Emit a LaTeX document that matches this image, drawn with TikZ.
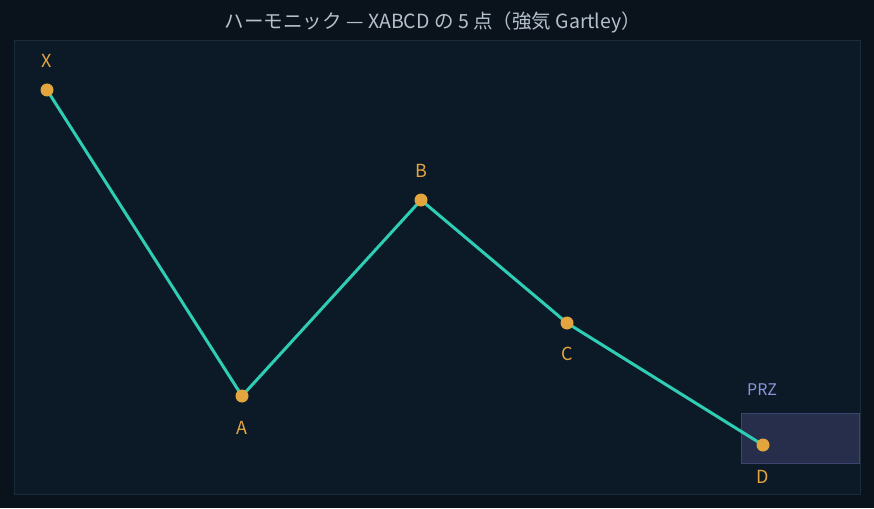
\documentclass[tikz,border=0pt]{standalone}
\usepackage{fontspec}
\setmainfont{Noto Sans CJK JP}
\definecolor{bgout}{HTML}{0A121C}
\definecolor{panel}{HTML}{0C1A27}
\definecolor{panelborder}{HTML}{1A2C3A}
\definecolor{teal}{HTML}{2ECDB4}
\definecolor{dot}{HTML}{E3A63E}
\definecolor{przfill}{HTML}{262E4C}
\definecolor{przborder}{HTML}{3A4670}
\definecolor{przlabel}{HTML}{8C94D8}
\definecolor{titlec}{HTML}{B4C0CC}
\begin{document}
\begin{tikzpicture}[x=1pt,y=-1pt,
  pt/.style={circle,fill=dot,inner sep=0pt,minimum size=13pt},
  lbl/.style={text=dot,font=\fontsize{18}{21}\selectfont,inner sep=0pt},
  leg/.style={draw=teal,line width=3pt,line join=round}]
\fill[bgout] (0,0) rectangle (874,508);
\useasboundingbox (0,0) rectangle (874,508);
\filldraw[fill=panel,draw=panelborder,line width=1pt] (14,41) rectangle (860,494);
\node[text=titlec,font=\fontsize{19.5}{23}\selectfont,inner sep=0pt] (title) at (433,22) {ハーモニック — XABCD の 5 点（強気 Gartley）};
\filldraw[fill=przfill,draw=przborder,line width=1pt] (741,413) rectangle (859,463);
\node[text=przlabel,font=\fontsize{16}{19}\selectfont,inner sep=0pt] (prz) at (762,390) {PRZ};
\coordinate (X) at (47,90);
\coordinate (A) at (242,396);
\coordinate (B) at (421,200);
\coordinate (C) at (567,323);
\coordinate (D) at (763,445);
\draw[leg] (X) -- (A) -- (B) -- (C) -- (D);
\foreach \p in {X,A,B,C,D} \node[pt] (d\p) at (\p) {};
\node[lbl] (lX) at (47,61) {X};
\node[lbl] (lA) at (242,428) {A};
\node[lbl] (lB) at (421,171) {B};
\node[lbl] (lC) at (567,354) {C};
\node[lbl] (lD) at (763,477) {D};
\end{tikzpicture}
\end{document}
